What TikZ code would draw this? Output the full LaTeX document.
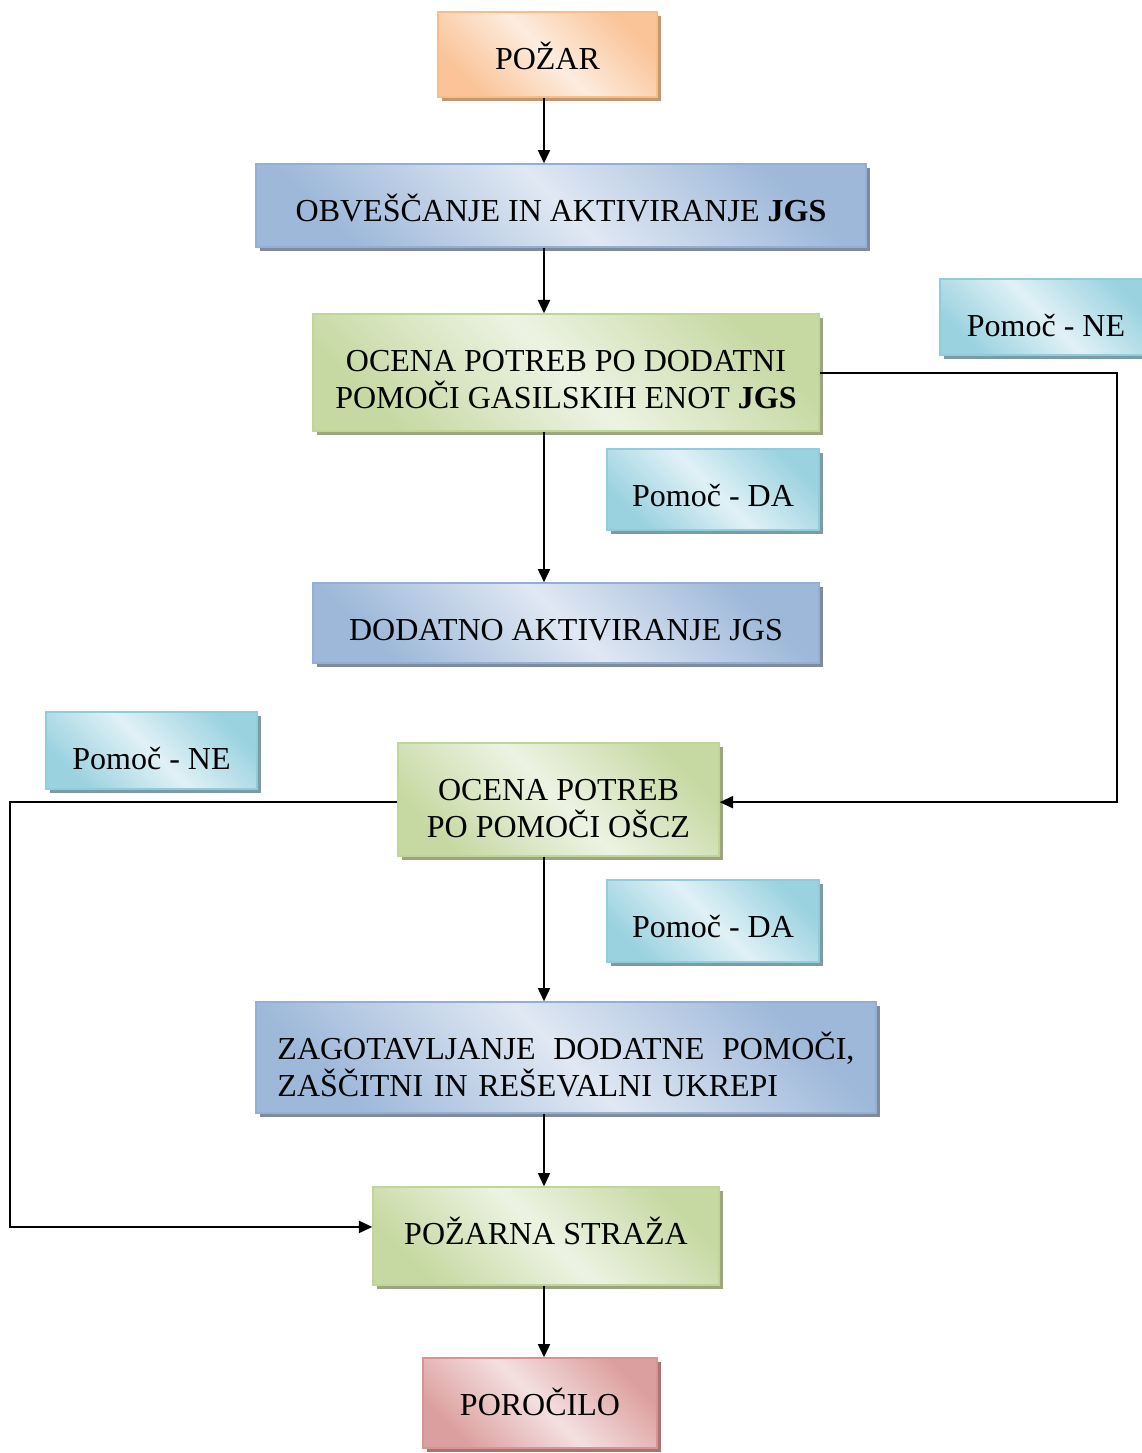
\documentclass[tikz,border=0pt]{standalone}
\usepackage{fontspec}
\setmainfont{Liberation Serif}
\usetikzlibrary{arrows.meta, positioning, shadows}

\definecolor{orangedark}{RGB}{249,189,140}
\definecolor{orangelight}{RGB}{253,236,222}
\definecolor{orangeshadow}{RGB}{196,150,112}
\definecolor{bluedark}{RGB}{146,176,213}
\definecolor{bluelight}{RGB}{224,232,243}
\definecolor{blueshadow}{RGB}{128,138,154}
\definecolor{greendark}{RGB}{192,213,152}
\definecolor{greenlight}{RGB}{237,243,227}
\definecolor{greenshadow}{RGB}{155,165,130}
\definecolor{cyandark}{RGB}{143,205,220}
\definecolor{cyanlight}{RGB}{224,241,246}
\definecolor{cyanshadow}{RGB}{125,155,165}
\definecolor{reddark}{RGB}{216,148,147}
\definecolor{redlight}{RGB}{244,224,224}
\definecolor{redshadow}{RGB}{170,115,115}

\begin{document}
\begin{tikzpicture}[
        x=0.375pt, y=-0.375pt, % one unit = one pixel of the sketch
        every node/.style={font=\fontsize{12}{13.9}\selectfont, align=center,
          inner xsep=2pt, inner ysep=0pt, text height=21.4pt},
        twolines/.style={text height=35.3pt},
        box/.style={draw=#1dark, line width=0.5pt,
          top color=#1dark!85!#1light, bottom color=#1dark!85!#1light, middle color=#1light, shading angle=-45,
          drop shadow={shadow xshift=1.5pt, shadow yshift=-1.5pt, fill=#1shadow, opacity=1}},
        arrow/.style={line width=0.75pt, -{Triangle[length=5pt, width=4.5pt]}}
      ]
      \useasboundingbox (0,0) rectangle (1142,1453);

      % Nodes (text hangs from the top edge, as in the sketch)
      \node (pozar) [box=orange, minimum width=82.1pt, text depth=10.5pt] at (547.5,54.5) {POŽAR};
      \node (obv) [box=blue, minimum width=228.8pt, text depth=9.7pt] at (561,205.5) {OBVEŠČANJE IN AKTIVIRANJE \textbf{JGS}};
      \node (ocena1) [box=green, twolines, minimum width=189.8pt, text depth=8.6pt] at (566,372.5) {OCENA POTREB PO DODATNI\\POMOČI GASILSKIH ENOT \textbf{JGS}};
      \node (ne1) [box=cyan, minimum width=79.5pt, text depth=7.1pt] at (1046,317) {Pomoč - NE};
      \node (da1) [box=cyan, minimum width=79.5pt, text depth=9pt] at (713,489.5) {Pomoč - DA};
      \node (dodatno) [box=blue, minimum width=189.8pt, text depth=8.6pt] at (566,623) {DODATNO AKTIVIRANJE JGS};
      \node (ne2) [box=cyan, minimum width=79.1pt, text depth=7.5pt] at (151.5,750.5) {Pomoč - NE};
      \node (ocena2) [box=green, twolines, minimum width=120.4pt, text depth=7.1pt] at (558.5,799.5) {OCENA POTREB\\PO POMOČI OŠCZ};
      \node (da2) [box=cyan, minimum width=79.5pt, text depth=9.35pt] at (713,921) {Pomoč - DA};
      \node (zagot) [box=blue, minimum width=232.5pt, text depth=20.2pt, text width=216.4pt, align=left] at (566,1057.5)
        {\makebox[216.4pt][l]{ZAGOTAVLJANJE\hfill DODATNE\hfill POMOČI,}\\ZAŠČITNI IN REŠEVALNI UKREPI};
      \node (straza) [box=green, minimum width=129.8pt, text depth=15.35pt] at (546,1236) {POŽARNA STRAŽA};
      \node (porocilo) [box=red, minimum width=87.8pt, text depth=12.35pt] at (540,1403) {POROČILO};

      \coordinate (spine) at (544,0);

      % Arrows
      \draw[arrow] (spine |- pozar.south) -- (spine |- obv.north);
      \draw[arrow] (spine |- obv.south) -- (spine |- ocena1.north);
      \draw[arrow] (spine |- ocena1.south) -- (spine |- dodatno.north);
      \draw[arrow] (spine |- ocena2.south) -- (spine |- zagot.north);
      \draw[arrow] (spine |- zagot.south) -- (spine |- straza.north);
      \draw[arrow] (spine |- straza.south) -- (spine |- porocilo.north);
      \draw[arrow] (ocena1.east) -- (ocena1.east -| 1117,0) |- ([yshift=-1pt]ocena2.east);
      \draw[arrow] ([yshift=-1pt]ocena2.west) -- ([yshift=-1pt]ocena2.west -| 10,0) |- ([yshift=3.4pt]straza.west);

    \end{tikzpicture}
\end{document}
